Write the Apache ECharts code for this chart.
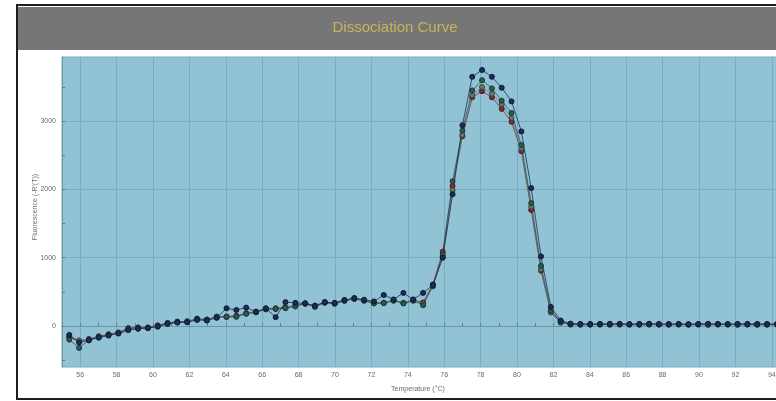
<!DOCTYPE html>
<html>
<head>
<meta charset="utf-8">
<script src="https://cdn.jsdelivr.net/npm/echarts@6/dist/echarts.min.js"></script>
<style>
  html, body { margin: 0; padding: 0; background: #ffffff; }
  #chart { width: 776px; height: 401px; }
</style>
</head>
<body>
<div id="chart"></div>
<script>
// Melt temperatures (°C) of each reading
const temperatures = [
  55.40, 55.94, 56.48, 57.02, 57.56, 58.10, 58.64, 59.18, 59.72, 60.26,
  60.80, 61.34, 61.88, 62.42, 62.96, 63.50, 64.04, 64.58, 65.12, 65.66,
  66.20, 66.74, 67.28, 67.82, 68.36, 68.90, 69.44, 69.98, 70.52, 71.06,
  71.60, 72.14, 72.68, 73.22, 73.76, 74.30, 74.84, 75.38, 75.92, 76.46,
  77.00, 77.54, 78.08, 78.62, 79.16, 79.70, 80.24, 80.78, 81.32, 81.86,
  82.40, 82.94, 83.48, 84.02, 84.56, 85.10, 85.64, 86.18, 86.72, 87.26,
  87.80, 88.34, 88.88, 89.42, 89.96, 90.50, 91.04, 91.58, 92.12, 92.66,
  93.20, 93.74, 94.28
];

// Fluorescence -R'(T) per well
const wellA = [
  -130, -240, -210, -170, -140, -110, -60, -40, -30, -10,
  30, 50, 55, 90, 80, 120, 260, 235, 270, 210,
  260, 130, 350, 340, 330, 300, 350, 340, 380, 410,
  385, 360, 455, 390, 485, 390, 485, 600, 1000, 1930,
  2940, 3650, 3750, 3650, 3490, 3290, 2850, 2020, 1020, 280,
  80, 35, 30, 28, 30, 32, 30, 28, 30, 33,
  30, 28, 30, 27, 30, 32, 30, 28, 30, 31,
  29, 30, 28
];
const wellB = [
  -200, -320, -205, -160, -130, -100, -40, -25, -30, 0,
  45, 60, 70, 110, 95, 140, 135, 135, 180, 200,
  245, 250, 265, 300, 330, 280, 340, 325, 370, 395,
  370, 330, 335, 370, 330, 370, 305, 590, 1050, 2120,
  2860, 3450, 3600, 3480, 3300, 3120, 2650, 1800, 880, 230,
  60, 25, 22, 20, 24, 22, 25, 20, 22, 24,
  20, 22, 25, 20, 22, 21, 24, 22, 20, 23,
  22, 20, 22
];
const wellC = [
  -170, -220, -190, -150, -120, -95, -30, -20, -20, 10,
  45, 65, 60, 100, 90, 130, 140, 150, 190, 210,
  255, 260, 270, 290, 335, 290, 350, 335, 380, 400,
  375, 340, 340, 380, 340, 380, 345, 610, 1090, 2050,
  2780, 3350, 3440, 3350, 3180, 2990, 2560, 1700, 810, 200,
  50, 30, 28, 25, 28, 27, 30, 26, 28, 30,
  25, 26, 28, 25, 28, 26, 28, 25, 27, 26,
  28, 25, 26
];
const wellD = [
  -150, -210, -200, -165, -125, -105, -50, -35, -25, -5,
  35, 55, 65, 95, 95, 125, 130, 140, 180, 205,
  245, 250, 260, 285, 325, 285, 345, 330, 370, 405,
  375, 335, 340, 375, 335, 375, 330, 580, 1020, 1990,
  2800, 3380, 3500, 3400, 3250, 3050, 2600, 1750, 830, 210,
  70, 20, 18, 22, 20, 18, 20, 22, 18, 20,
  22, 18, 20, 19, 21, 18, 20, 22, 19, 20,
  18, 21, 19
];

// Axis tick positions
const yTickValues = [-500, 0, 500, 1000, 1500, 2000, 2500, 3000, 3500];
const yLabelValues = [0, 1000, 2000, 3000];

const pairs = (ys) => temperatures.map((t, i) => [t, ys[i]]);

const gridColor = '#78aec4';
const labelColor = '#6a6a6a';
const fontFamily = '"Liberation Sans", Arial, sans-serif';

function well(name, data, color, edge) {
  return {
    name: name,
    type: 'line',
    data: pairs(data),
    symbol: 'circle',
    symbolSize: 5,
    smooth: false,
    lineStyle: { color: color, width: 1, opacity: 0.8 },
    itemStyle: { color: color, borderColor: edge, borderWidth: 1 },
    emphasis: { disabled: true },
    animation: false
  };
}

const chart = echarts.init(document.getElementById('chart'), null, { renderer: 'canvas' });

chart.setOption({
  backgroundColor: '#ffffff',
  animation: false,
  graphic: [
    { type: 'rect', shape: { x: 17, y: 5, width: 780, height: 394 },
      style: { fill: 'none', stroke: '#1e1e1e', lineWidth: 2 }, z: 0 },
    { type: 'rect', shape: { x: 18, y: 7, width: 770, height: 43 },
      style: { fill: '#767676' }, z: 0 },
    { type: 'text', x: 395, y: 28,
      style: { text: 'Dissociation Curve', fill: '#c9b457', font: '15px ' + fontFamily,
               textAlign: 'center', textVerticalAlign: 'middle' }, z: 1 },
    { type: 'text', x: 418, y: 389,
      style: { text: 'Temperature (°C)', fill: labelColor, font: '7px ' + fontFamily,
               textAlign: 'center', textVerticalAlign: 'middle' }, z: 1 },
    { type: 'text', x: 35, y: 207, rotation: Math.PI / 2,
      style: { text: "Fluorescence (-R'(T))", fill: labelColor, font: '7px ' + fontFamily,
               textAlign: 'center', textVerticalAlign: 'middle' }, z: 1 }
  ],
  grid: {
    left: 62, top: 57, width: 728, height: 310,
    outerBoundsMode: 'none',
    containLabel: false,
    show: true, backgroundColor: '#92c3d5', borderColor: '#7aaabf', borderWidth: 1
  },
  xAxis: {
    type: 'value',
    min: 55, max: 95, interval: 1,
    axisLine: { show: true, lineStyle: { color: '#6b96a8', width: 1 } },
    axisTick: { show: true, inside: true, length: 3, lineStyle: { color: '#5f7f8c' } },
    axisLabel: {
      color: labelColor, fontSize: 7, margin: 5, fontFamily: fontFamily,
      formatter: (v) => (Math.round(v) % 2 === 0 ? String(Math.round(v)) : '')
    },
    splitLine: { show: true, lineStyle: { color: ['rgba(0,0,0,0)', gridColor], width: 1 } }
  },
  yAxis: {
    type: 'value',
    min: -600, max: 3940,
    axisLine: { show: true, lineStyle: { color: '#6b96a8', width: 1 } },
    axisTick: { show: true, inside: true, length: 3, customValues: yTickValues, lineStyle: { color: '#5f7f8c' } },
    axisLabel: {
      color: labelColor, fontSize: 7, margin: 6, customValues: yLabelValues, fontFamily: fontFamily,
      formatter: (v) => String(v)
    },
    splitLine: { show: true, lineStyle: { color: ['rgba(0,0,0,0)', gridColor], width: 1 } }
  },
  series: [
    well('C', wellC, '#7c2f34', '#4a1a1e'),
    well('D', wellD, '#66786c', '#3a463e'),
    well('B', wellB, '#2c5a52', '#1a3630'),
    well('A', wellA, '#1b2d5c', '#0e1733')
  ]
});
</script>
</body>
</html>
